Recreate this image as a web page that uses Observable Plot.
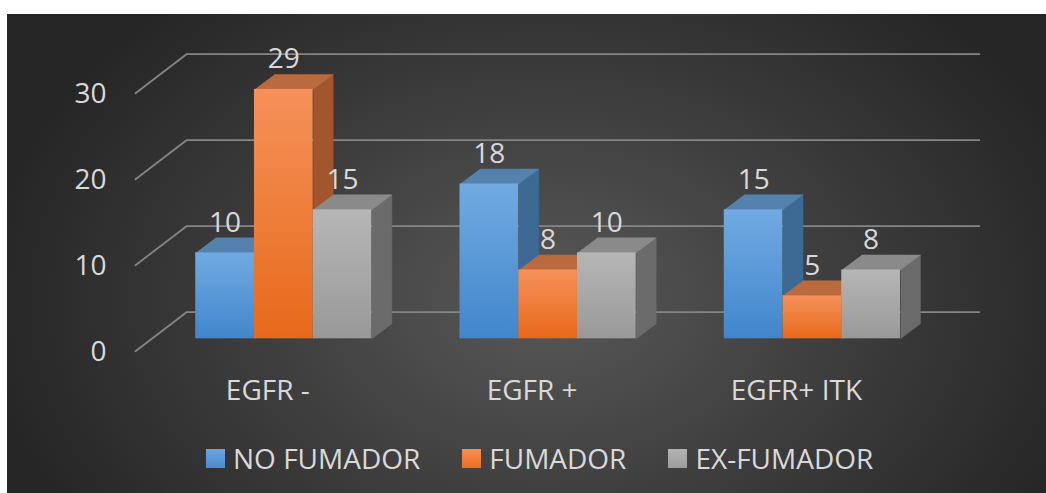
<!DOCTYPE html>
<html><head><meta charset="utf-8">
<script src="https://cdn.jsdelivr.net/npm/d3@7"></script>
<script src="https://cdn.jsdelivr.net/npm/@observablehq/plot@0.6"></script>
<style>
body{margin:0;background:#fff;}
#panel{position:absolute;left:7px;top:14px;width:1039px;height:479px;
  background:radial-gradient(ellipse 54% 83% at 52% 60%, #585858 0%, #3c3c3c 55%, #262626 100%);
  font-family:"Open Sans",sans-serif;overflow:hidden}
#chart{position:absolute;left:0;top:0}
#legend{position:absolute;left:199px;top:426px;height:37px;line-height:37px;display:flex;gap:42px;align-items:center;color:#d9d9d9;font-size:28px;white-space:nowrap}
.item{display:flex;align-items:center;gap:8px}
.sw{width:19px;height:19px;display:inline-block}
</style></head><body>
<div id="panel"><div id="chart"></div><div id="legend"></div></div>
<script>
// ---- data ----
const categories = ["EGFR -", "EGFR +", "EGFR+ ITK"];
const series = ["NO FUMADOR", "FUMADOR", "EX-FUMADOR"];
const noFumador = [10, 18, 15];
const fumador = [29, 8, 5];
const exFumador = [15, 10, 8];
const yTicks = [0, 10, 20, 30];
const values = [noFumador, fumador, exFumador];

// ---- styles ----
const frontTop = ["#71aae2", "#f5915a", "#b6b6b6"];
const frontBottom = ["#4186cc", "#e8691a", "#999999"];
const topColors = ["#5481ae", "#bb6a3e", "#8a8a8a"];
const sideColors = ["#3d6995", "#a2562d", "#6b6b6b"];
const swatchColors = [["#6aa5df","#4a8bd0"],["#f58e55","#ea6e20"],["#b3b3b3","#9c9c9c"]];
const textColor = "#d9d9d9";

// ---- layout ----
const W = 1039, H = 410;
const groupStep = 4.5;
const xDomain = [-0.75, 12.75], xRange = [144.2, 937];
const yDomain = [0, 30], yRange = [324.3, 66.3];
const xUnit = (xRange[1] - xRange[0]) / (xDomain[1] - xDomain[0]);
const yUnit = (yRange[0] - yRange[1]) / (yDomain[1] - yDomain[0]);
const px = p => p / xUnit, py = p => p / yUnit;
const barD = [px(20), py(15)];
const floorFront = [px(-16.2), py(-12.4)];
const floorBack = [px(34.8), py(26.6)];

const rows = [];
categories.forEach((c, ci) => series.forEach((s, si) => {
  const x0 = ci * groupStep + si;
  rows.push({id: ci * 3 + si, category: c, series: s, ci, si, value: values[si][ci], x0, x1: x0 + 1});
}));

const poly = (id, si, pts) => pts.map(([x, y]) => ({id, si, x, y}));
const sides = rows.flatMap(r => poly(r.id, r.si, [[r.x1, 0], [r.x1 + barD[0], barD[1]], [r.x1 + barD[0], r.value + barD[1]], [r.x1, r.value]]));
const tops = rows.flatMap(r => poly(r.id, r.si, [[r.x0, r.value], [r.x1, r.value], [r.x1 + barD[0], r.value + barD[1]], [r.x0 + barD[0], r.value + barD[1]]]));
const shadows = categories.flatMap((c, ci) => {
  const a = ci * groupStep - px(14), b = ci * groupStep + 3 + px(6);
  return poly(ci, 0, [[a, py(-5)], [b, py(-5)], [b + barD[0] + px(12), barD[1] + py(2)], [a + barD[0] + px(4), barD[1] + py(2)]]);
});
const grid = yTicks.flatMap(v => [
  {v, x: xDomain[0] + floorFront[0], y: v + floorFront[1]},
  {v, x: xDomain[0] + floorBack[0], y: v + floorBack[1]},
  {v, x: xDomain[1] + floorBack[0], y: v + floorBack[1]}
]);

const marks = [
  Plot.line(grid, {x: "x", y: "y", z: "v", stroke: "#858585", strokeWidth: 1.8}),
  Plot.line(shadows, {x: "x", y: "y", z: "id", fill: "#000", fillOpacity: 0.85, stroke: "none", ariaLabel: "shadow"})
];
series.forEach((s, si) => marks.push(Plot.line(sides.filter(d => d.si === si), {x: "x", y: "y", z: "id", fill: sideColors[si], stroke: sideColors[si], strokeWidth: 0.5})));
series.forEach((s, si) => marks.push(Plot.line(tops.filter(d => d.si === si), {x: "x", y: "y", z: "id", fill: topColors[si], stroke: topColors[si], strokeWidth: 0.5})));
series.forEach((s, si) => marks.push(Plot.rect(rows.filter(d => d.si === si), {x1: "x0", x2: "x1", y1: 0, y2: "value", fill: `url(#front${si})`})));
marks.push(
  Plot.text(rows, {x: d => d.x0 + 0.5, y: "value", text: d => String(d.value), dy: -30, fill: textColor, fontSize: 28}),
  Plot.text(yTicks, {x: xDomain[0], y: d => d, text: d => String(d), dx: -16.2 - 29, dy: 13.2, textAnchor: "end", fill: textColor, fontSize: 28}),
  Plot.text(categories, {x: (d, i) => i * groupStep + 1.5, y: 0, text: d => d, dx: -16, dy: 52.7, fill: textColor, fontSize: 28})
);

const chart = Plot.plot({
  width: W, height: H,
  x: {type: "linear", domain: xDomain, range: xRange, axis: null},
  y: {type: "linear", domain: yDomain, range: yRange, axis: null},
  style: {background: "transparent", fontFamily: "'Open Sans', sans-serif", overflow: "visible"},
  marks
});

const defs = document.createElementNS("http://www.w3.org/2000/svg", "defs");
defs.innerHTML = series.map((s, si) =>
  `<linearGradient id="front${si}" x1="0" y1="0" x2="0" y2="1"><stop offset="0" stop-color="${frontTop[si]}"/><stop offset="1" stop-color="${frontBottom[si]}"/></linearGradient>`
).join("") + `<filter id="blur" x="-20%" y="-100%" width="140%" height="300%"><feGaussianBlur stdDeviation="5"/></filter>`;
chart.insertBefore(defs, chart.firstChild);
chart.querySelectorAll('g[aria-label="shadow"]').forEach(g => g.setAttribute("filter", "url(#blur)"));
document.getElementById("chart").appendChild(chart);

const legend = document.getElementById("legend");
series.forEach((s, si) => {
  const item = document.createElement("div"); item.className = "item";
  const sw = document.createElement("span"); sw.className = "sw";
  sw.style.background = `linear-gradient(${swatchColors[si][0]}, ${swatchColors[si][1]})`;
  const t = document.createElement("span"); t.textContent = s;
  item.append(sw, t); legend.appendChild(item);
});
</script></body></html>
